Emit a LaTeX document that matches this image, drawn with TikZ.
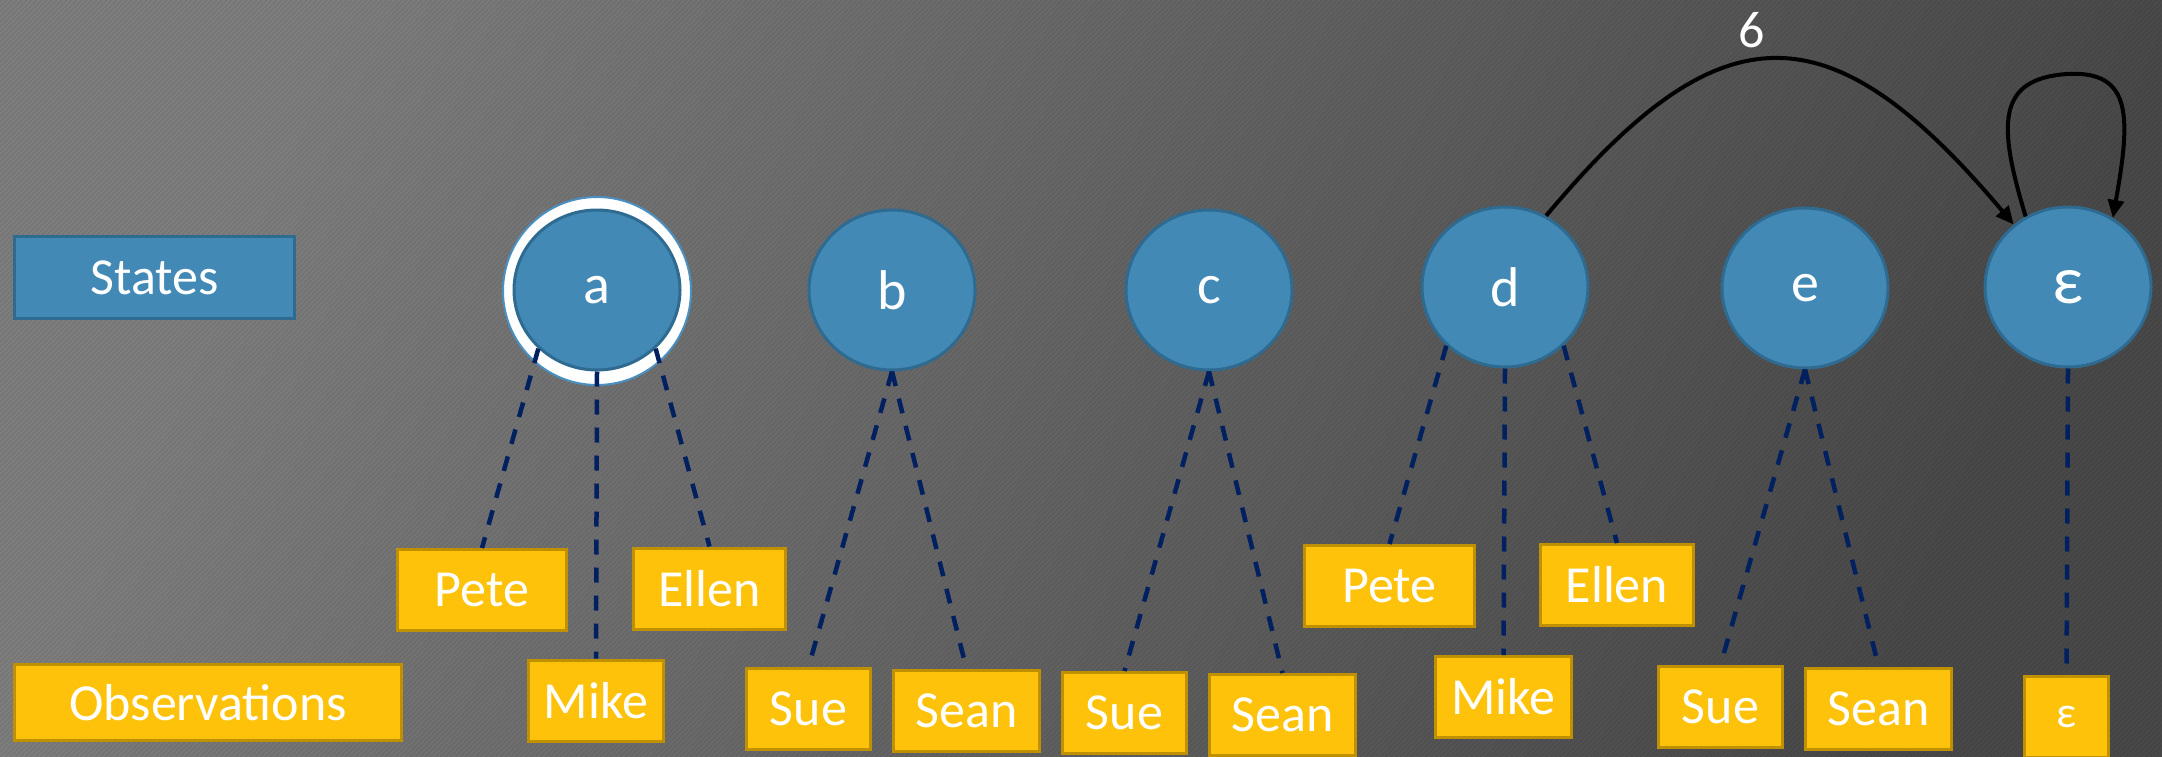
\documentclass[tikz,border=0pt]{standalone}
\usepackage{fontspec}
\setmainfont{Carlito}
\usetikzlibrary{shapes.geometric,arrows.meta}
\definecolor{stf}{HTML}{4289B5}
\definecolor{stb}{HTML}{2F6A91}
\definecolor{obf}{HTML}{FFC20A}
\definecolor{obb}{HTML}{BF9000}
\definecolor{emc}{HTML}{002060}
\definecolor{bgl}{HTML}{808080}
\definecolor{bgr}{HTML}{4A4A4A}
\definecolor{ringb}{HTML}{4A90C2}
\tikzset{
  stnode/.style={ellipse, draw=stb, line width=3pt, fill=stf, minimum width=166pt, minimum height=160pt,
    inner sep=0pt, text=white, font=\fontsize{56}{60}\selectfont},
  obnode/.style={rectangle, draw=obb, line width=3pt, fill=obf, minimum height=81pt, inner sep=0pt,
    text=white, font=\fontsize{52}{60}\selectfont},
  emitline/.style={draw=emc, line width=4.5pt, dash pattern=on 15pt off 13pt},
  arrline/.style={draw=black, line width=4pt, -{Triangle[length=18pt,width=16pt]}},
  lbl/.style={text=white, font=\fontsize{52}{60}\selectfont, inner sep=0pt}
}
\begin{document}
\begin{tikzpicture}[x=1pt,y=-1pt]
\useasboundingbox (0,0) rectangle (2162,757);
\clip (0,0) rectangle (2162,757);
\shade[left color=bgl, right color=bgr, shading angle=66] (0,0) rectangle (2162,757);
\foreach \i in {-760,-755,...,2160} \draw[black, opacity=0.07, line width=2pt] (\i,757) -- ++(757,-757);

% legend
\node[obnode, draw=stb, fill=stf, minimum width=280pt, minimum height=82pt] (states) at (154.5,277.5) {States};
\node[obnode, minimum width=387pt, minimum height=76pt] (obs) at (208,702.5) {Observations};

% ring of start state
\node[circle, draw=ringb, line width=2pt, fill=white, minimum size=188pt, inner sep=0pt] (ring) at (597,291) {};

% states
\node[stnode] (sa) at (597,290) {a};
\node[stnode] (sb) at (892,290) {b};
\node[stnode] (sc) at (1209,290) {c};
\node[stnode] (sd) at (1505,287) {d};
\node[stnode] (se) at (1805,288) {e};
\node[stnode, font=\fontsize{68}{70}\selectfont] (seps) at (2068,287) {ε};

% observations
\node[obnode, minimum width=169pt] (peteA) at (482,590) {Pete};
\node[obnode, minimum width=135pt] (mikeA) at (596,700.5) {Mike};
\node[obnode, minimum width=152pt] (ellenA) at (709.5,588.5) {Ellen};
\node[obnode, minimum width=124pt] (sueB) at (808.5,709) {Sue};
\node[obnode, minimum width=146pt] (seanB) at (966.5,711) {Sean};
\node[obnode, minimum width=124pt] (sueC) at (1124.5,713) {Sue};
\node[obnode, minimum width=146pt] (seanC) at (1282.5,715) {Sean};
\node[obnode, minimum width=170pt] (peteD) at (1389.5,586) {Pete};
\node[obnode, minimum width=136pt] (mikeD) at (1503.5,697) {Mike};
\node[obnode, minimum width=153pt] (ellenD) at (1617,585) {Ellen};
\node[obnode, minimum width=124pt] (sueE) at (1720.5,707) {Sue};
\node[obnode, minimum width=146pt] (seanE) at (1878.5,708.5) {Sean};
\node[obnode, minimum width=84pt, font=\fontsize{44}{50}\selectfont] (epsO) at (2066.5,717) {ε};

% emission lines
\draw[emitline] (sa.-135) -- (peteA.north);
\draw[emitline] (sa.south) -- (mikeA.north);
\draw[emitline] (sa.-45) -- (ellenA.north);
\draw[emitline] (sb.south) -- (sueB.north);
\draw[emitline] (sb.south) -- (seanB.north);
\draw[emitline] (sc.south) -- (sueC.north);
\draw[emitline] (sc.south) -- (seanC.north);
\draw[emitline] (sd.-135) -- (peteD.north);
\draw[emitline] (sd.south) -- (mikeD.north);
\draw[emitline] (sd.-45) -- (ellenD.north);
\draw[emitline] (se.south) -- (sueE.north);
\draw[emitline] (se.south) -- (seanE.north);
\draw[emitline] (seps.south) -- (epsO.north);

% transitions
\draw[arrline] (sd.60) .. controls (1721,6) and (1830,6) .. (seps.131);
\node[lbl] (six) at (1752,30) {6};
\coordinate (looptop) at (2067,74);
\draw[arrline] (seps.121) .. controls (1998,125) and (1996,79) .. (looptop) .. controls (2134,70) and (2130,120) .. (seps.57);
\end{tikzpicture}
\end{document}
